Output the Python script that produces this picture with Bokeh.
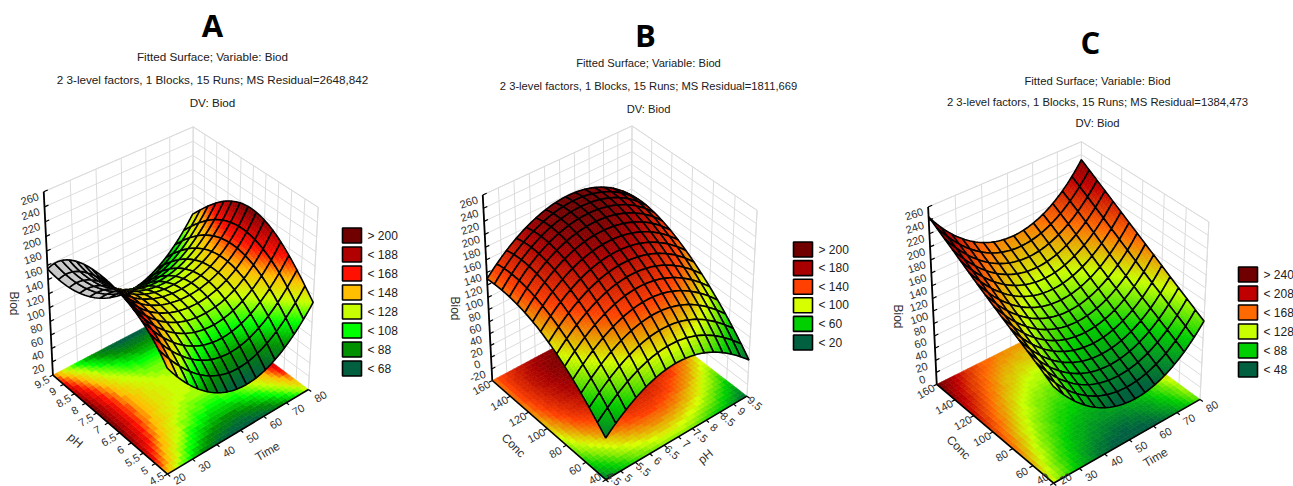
import numpy as np
from bokeh.plotting import figure
from bokeh.layouts import row
from bokeh.models import Range1d
from bokeh.core.properties import value
from bokeh.embed import file_html
from bokeh.resources import INLINE

# Heights below are eye-read estimates from the picture at 5x5 nodes of each
# surface; the drawn mesh smooths between those nodes.
TIME_TICKS = [20, 30, 40, 50, 60, 70, 80]
PH_TICKS = [4.5, 5, 5.5, 6, 6.5, 7, 7.5, 8, 8.5, 9, 9.5]
CONC_TICKS = [40, 60, 80, 100, 120, 140, 160]

A_Z_TICKS = [20, 40, 60, 80, 100, 120, 140, 160, 180, 200, 220, 240, 260]
B_Z_TICKS = [-20, 0, 20, 40, 60, 80, 100, 120, 140, 160, 180, 200, 220, 240, 260]
C_Z_TICKS = [0, 20, 40, 60, 80, 100, 120, 140, 160, 180, 200, 220, 240, 260]

# rows: second factor low -> high, columns: first factor low -> high
A_Z = [[150, 88, 64, 78, 129],
       [192, 132, 111, 125, 179],
       [205, 146, 130, 143, 200],
       [197, 133, 113, 127, 182],
       [155, 90, 67, 82, 135]]
B_Z = [[30, 74, 87, 68, 22],
       [78, 125, 141, 124, 78],
       [112, 160, 176, 162, 119],
       [129, 180, 197, 186, 145],
       [130, 178, 198, 190, 150]]
C_Z = [[132, 67, 43, 56, 108],
       [160, 95, 72, 85, 139],
       [187, 123, 100, 114, 170],
       [216, 153, 130, 145, 201],
       [245, 182, 160, 175, 232]]

A_LEVELS = [68, 88, 108, 128, 148, 168, 188, 200]
A_COLORS = ["#006040", "#009000", "#00ff00", "#c8ff00", "#ffbe00", "#ff1000", "#b00000", "#700000"]
A_LEGEND = ["> 200", "< 188", "< 168", "< 148", "< 128", "< 108", "< 88", "< 68"]
B_LEVELS = [20, 60, 100, 140, 180, 200]
B_COLORS = ["#006040", "#00d000", "#d8ff00", "#ff4000", "#a80000", "#700000"]
B_LEGEND = ["> 200", "< 180", "< 140", "< 100", "< 60", "< 20"]
C_LEVELS = [48, 88, 128, 168, 208, 240]
C_COLORS = ["#006040", "#00d000", "#c8ff00", "#ff6a00", "#c00000", "#700000"]
C_LEGEND = ["> 240", "< 208", "< 168", "< 128", "< 88", "< 48"]

HEAD = "Fitted Surface; Variable: Biod"
SUB_A = "2 3-level factors, 1 Blocks, 15 Runs; MS Residual=2648,842"
SUB_B = "2 3-level factors, 1 Blocks, 15 Runs; MS Residual=1811,669"
SUB_C = "2 3-level factors, 1 Blocks, 15 Runs; MS Residual=1384,473"
DV = "DV: Biod"

SANS = "Liberation Sans"
MESH = 15
SUB = 4
FLOOR = 34
TOP = 0
BOTTOM = 486
LABEL_FLOOR = 478


def fmt(t):
    return f"{t:g}"


def fit_projection(corners):
    rows = []
    for (U, V, W), (x, y) in corners.items():
        x, y = x / 1000.0, y / 1000.0
        rows.append([U, V, W, 1, 0, 0, 0, 0, -x * U, -x * V, -x * W, -x])
        rows.append([0, 0, 0, 0, U, V, W, 1, -y * U, -y * V, -y * W, -y])
    P = np.linalg.svd(np.array(rows, float))[2][-1].reshape(3, 4)

    def project(U, V, W):
        U, V, W = np.asarray(U, float), np.asarray(V, float), np.asarray(W, float)
        d = P[2, 0] * U + P[2, 1] * V + P[2, 2] * W + P[2, 3]
        x = (P[0, 0] * U + P[0, 1] * V + P[0, 2] * W + P[0, 3]) / d
        y = (P[1, 0] * U + P[1, 1] * V + P[1, 2] * W + P[1, 3]) / d
        return x * 1000.0, y * 1000.0
    return project


def node_weights(t):
    nodes = np.linspace(0, 1, 5)
    M = np.ones((len(t), 5))
    for k in range(5):
        for m in range(5):
            if m != k:
                M[:, k] *= (t - nodes[m]) / (nodes[k] - nodes[m])
    return M


def ramp(z, levels, colors):
    rgb = np.array([[int(c[i:i + 2], 16) for i in (1, 3, 5)] for c in colors], float)
    v = [np.interp(z, levels, rgb[:, k]) for k in range(3)]
    return "#%02x%02x%02x" % (int(v[0]), int(v[1]), int(v[2]))


def text(p, xs, ys, labels, size, angle=0, font=SANS, color="#303030", style="normal"):
    p.text(x=list(xs), y=list(ys), text=list(labels), angle=angle, angle_units="deg",
           text_font=value(font), text_font_size=value(f"{size}px"), text_color=color,
           text_align="center", text_baseline="middle", text_font_style=style)


def panel(cfg):
    p = figure(width=cfg["x1"] - cfg["x0"], height=BOTTOM - TOP,
               x_range=Range1d(cfg["x0"], cfg["x1"]), y_range=Range1d(BOTTOM, TOP),
               toolbar_location=None, output_backend="svg", min_border=0,
               x_axis_location=None, y_axis_location=None, outline_line_color=None)
    p.grid.visible = False
    proj = fit_projection(cfg["corners"])
    zlo, zhi = cfg["zrange"]
    ut, vt, zt = cfg["u_ticks"], cfg["v_ticks"], cfg["z_ticks"]
    U = lambda t: (t - ut[0]) / (ut[-1] - ut[0])
    V = lambda t: (t - vt[0]) / (vt[-1] - vt[0])
    W = lambda z: (z - zlo) / (zhi - zlo)

    # back walls
    xs, ys = [], []
    for t in ut:
        a = proj([U(t), U(t)], [1, 1], [0, 1])
        xs.append(a[0]); ys.append(a[1])
    for t in vt:
        a = proj([1, 1], [V(t), V(t)], [0, 1])
        xs.append(a[0]); ys.append(a[1])
    a = proj([0, 0], [1, 1], [0, 1]); xs.append(a[0]); ys.append(a[1])
    a = proj([1, 1], [0, 0], [0, 1]); xs.append(a[0]); ys.append(a[1])
    for z in list(zt) + [zhi]:
        a = proj([0, 1, 1], [1, 1, 0], [W(z)] * 3)
        xs.append(a[0]); ys.append(a[1])
    p.multi_line([list(x) for x in xs], [list(y) for y in ys], line_color="#dcdcdc", line_width=1)

    # surface on the fine grid
    Z = np.array(cfg["z"], float)
    n = MESH * SUB
    t = np.linspace(0, 1, n + 1)
    M = node_weights(t)
    zf = M @ Z @ M.T
    levels, colors = cfg["levels"], cfg["colors"]

    # floor contour
    tf = np.linspace(0, 1, FLOOR + 1)
    Mf = node_weights(tf)
    zfl = Mf @ Z @ Mf.T
    fxs, fys, fc = [], [], []
    for i in range(FLOOR):
        for j in range(FLOOR):
            us = [tf[i], tf[i + 1], tf[i + 1], tf[i]]
            vs = [tf[j], tf[j], tf[j + 1], tf[j + 1]]
            x, y = proj(us, vs, [0] * 4)
            zm = zfl[j:j + 2, i:i + 2].mean()
            fxs.append(list(x)); fys.append(list(y))
            fc.append(ramp(np.floor(zm / 4) * 4, levels, colors))
    p.patches(fxs, fys, fill_color=fc, line_color=fc, line_width=0.6)

    # axes
    for a0, a1 in (([0, 0], [1, 0]), ([0, 1], [0, 0])):
        x, y = proj(a0, a1, [0, 0])
        p.line(list(x), list(y), line_color="black", line_width=1.6)
    x, y = proj([0, 0], [1, 1], [0, 1])
    p.line(list(x), list(y), line_color="black", line_width=1.8)

    # ticks
    txs, tys = [], []
    for tick in ut:
        x, y = proj([U(tick), U(tick)], [0, -0.022], [0, 0])
        txs.append(list(x)); tys.append(list(y))
    for tick in vt:
        x, y = proj([0, -0.022], [V(tick), V(tick)], [0, 0])
        txs.append(list(x)); tys.append(list(y))
    for z in zt:
        x, y = proj([0, 0.025], [1, 1], [W(z), W(z)])
        txs.append(list(x)); tys.append(list(y))
    p.multi_line(txs, tys, line_color="black", line_width=1.2)

    # tick labels
    dx, dy, ang = cfg["u_off"]
    x, y = proj([U(k) for k in ut], [0] * len(ut), [0] * len(ut))
    text(p, x + dx, np.minimum(y + dy, LABEL_FLOOR), [fmt(k) for k in ut], 11, ang)
    dx, dy, ang = cfg["v_off"]
    x, y = proj([0] * len(vt), [V(k) for k in vt], [0] * len(vt))
    text(p, x + dx, np.minimum(y + dy, LABEL_FLOOR), [fmt(k) for k in vt], 11, ang)
    x, y = proj([0] * len(zt), [1] * len(zt), [W(k) for k in zt])
    text(p, x - 14, y + 7, [fmt(k) for k in zt], 11, 18)

    # axis titles
    for label, px, py, ang in cfg["titles"]:
        text(p, [px], [py], [label], 12, ang)

    # surface, back to front, with underside in grey
    xs, ys, fill, lcol, lw, alpha = [], [], [], [], [], []
    cells = sorted(((i, j) for i in range(MESH) for j in range(MESH)), key=lambda c: -(c[0] + c[1]))
    for ci, cj in cells:
        subs = sorted(((a, b) for a in range(SUB) for b in range(SUB)), key=lambda c: -(c[0] + c[1]))
        for a, b in subs:
            i, j = ci * SUB + a, cj * SUB + b
            us = [t[i], t[i + 1], t[i + 1], t[i]]
            vs = [t[j], t[j], t[j + 1], t[j + 1]]
            zs = [zf[j, i], zf[j, i + 1], zf[j + 1, i + 1], zf[j + 1, i]]
            x, y = proj(us, vs, [W(q) for q in zs])
            cross = (x[2] - x[0]) * (y[3] - y[1]) - (y[2] - y[0]) * (x[3] - x[1])
            c = "#c8c8c8" if cross > 0 else ramp(np.mean(zs), levels, colors)
            xs.append(list(x)); ys.append(list(y))
            fill.append(c); lcol.append(c); lw.append(0.6); alpha.append(1.0)
        i0, i1, j0, j1 = ci * SUB, (ci + 1) * SUB, cj * SUB, (cj + 1) * SUB
        ii = list(range(i0, i1 + 1)) + [i1] * (SUB - 1) + list(range(i1, i0 - 1, -1)) + [i0] * (SUB - 1)
        jj = [j0] * (SUB + 1) + list(range(j0 + 1, j1)) + [j1] * (SUB + 1) + list(range(j1 - 1, j0, -1))
        x, y = proj(t[ii], t[jj], W(zf[jj, ii]))
        xs.append(list(x)); ys.append(list(y))
        fill.append("#000000"); lcol.append("#000000"); lw.append(1.6); alpha.append(0.0)
    p.patches(xs, ys, fill_color=fill, fill_alpha=alpha, line_color=lcol, line_width=lw)

    # headings
    text(p, [cfg["letter"][0]], [cfg["letter"][1]], [cfg["letter"][2]], 31, font="Open Sans", color="black", style="bold")
    tx, ty = cfg["head_x"], cfg["head_y"]
    text(p, [tx] * 3, ty, [HEAD, cfg["sub"], DV], cfg["head_size"], color="#202020")

    # legend
    lx, ly, lstep = cfg["legend"]
    count = len(cfg["legend_labels"])
    rows = [ly + k * lstep for k in range(count)]
    p.quad(left=[lx] * count, right=[lx + 19] * count,
           top=[r - 7.5 for r in rows], bottom=[r + 7.5 for r in rows],
           fill_color=list(reversed(colors)), line_color="black", line_width=1.6)
    p.text(x=[lx + 25] * count, y=rows, text=cfg["legend_labels"],
           text_font=value(SANS), text_font_size=value("12px"), text_color="#202020",
           text_align="left", text_baseline="middle")
    return p


pa = panel(dict(x0=0, x1=430, zrange=(0, 260), z=A_Z, u_ticks=TIME_TICKS, v_ticks=PH_TICKS,
                z_ticks=A_Z_TICKS, levels=A_LEVELS, colors=A_COLORS, legend_labels=A_LEGEND,
                corners={(0, 0, 0): (167, 474), (1, 0, 0): (308, 388), (0, 1, 0): (52, 374), (1, 1, 0): (192, 303),
                         (0, 0, 1): (166, 284), (1, 0, 1): (318, 207), (0, 1, 1): (44, 191), (1, 1, 1): (192, 126)},
                u_off=(12, 7, 30), v_off=(-11, 7, 30),
                titles=[("Time", 267, 451, 30), ("pH", 75, 440, -42), ("Biod", 13, 303, -90)],
                letter=(212, 24, "A"), sub=SUB_A, head_size=11.7, head_x=212, head_y=[55.5, 79, 102], legend=(342, 235, 19)))
pb = panel(dict(x0=430, x1=860, zrange=(-40, 260), z=B_Z, u_ticks=PH_TICKS, v_ticks=CONC_TICKS,
                z_ticks=B_Z_TICKS, levels=B_LEVELS, colors=B_COLORS, legend_labels=B_LEGEND,
                corners={(0, 0, 0): (605, 480), (1, 0, 0): (747, 394), (0, 1, 0): (491, 378), (1, 1, 0): (631, 309),
                         (0, 0, 1): (605, 291), (1, 0, 1): (756, 209), (0, 1, 1): (483, 194), (1, 1, 1): (631, 125)},
                u_off=(8, 7, -40), v_off=(-11, 7, 30),
                titles=[("pH", 705, 456, 40), ("Conc", 513, 445, -45), ("Biod", 454, 308, -90)],
                letter=(645, 34, "B"), sub=SUB_B, head_size=11.2, head_x=648, head_y=[62, 85, 108], legend=(793, 249, 18.6)))
pc = panel(dict(x0=860, x1=1293, zrange=(-20, 260), z=C_Z, u_ticks=TIME_TICKS, v_ticks=CONC_TICKS,
                z_ticks=C_Z_TICKS, levels=C_LEVELS, colors=C_COLORS, legend_labels=C_LEGEND,
                corners={(0, 0, 0): (1053, 483), (1, 0, 0): (1200, 398), (0, 1, 0): (936, 383), (1, 1, 0): (1080, 313),
                         (0, 0, 1): (1052, 299), (1, 0, 1): (1208, 221), (0, 1, 1): (928, 206), (1, 1, 1): (1081, 141)},
                u_off=(12, 7, 30), v_off=(-11, 7, 30),
                titles=[("Time", 1155, 457, 30), ("Conc", 958, 447, -45), ("Biod", 897, 316, -90)],
                letter=(1090, 41, "C"), sub=SUB_C, head_size=11.3, head_x=1097, head_y=[80, 101, 122], legend=(1238, 274, 19)))

layout = row(pa, pb, pc, spacing=0)
open("out.html", "w").write(file_html(layout, INLINE))
